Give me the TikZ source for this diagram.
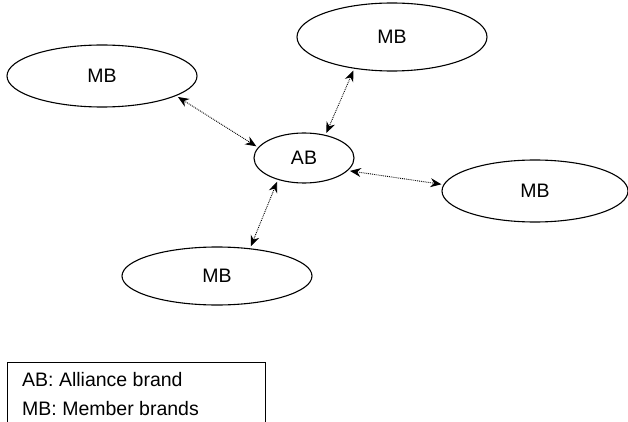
\documentclass[tikz,border=0pt]{standalone}
\usepackage{fontspec}
\setmainfont{Liberation Sans}
\usetikzlibrary{shapes.geometric,arrows.meta}
\tikzset{
  brand/.style={draw, ellipse, line width=1.1pt, inner sep=0pt},
  link/.style={<->, densely dotted, line width=0.9pt, shorten <=2pt, shorten >=2pt},
}
\begin{document}
\begin{tikzpicture}[x=1pt,y=-1pt,>={Stealth[length=11pt,width=9pt]},
  font=\fontsize{19.5}{23}\selectfont]
\useasboundingbox (0,0) rectangle (628,422);
% The brands
\node[brand, minimum width=100pt, minimum height=50pt] (ab) at (304,158) {AB};
\node[brand, minimum width=190pt, minimum height=62pt] (mbnw) at (102,76) {MB};
\node[brand, minimum width=190pt, minimum height=68pt] (mbn) at (392,37) {MB};
\node[brand, minimum width=186pt, minimum height=62pt] (mbe) at (535,191) {MB};
\node[brand, minimum width=190pt, minimum height=58pt] (mbs) at (217,276) {MB};

% The links
\draw[link] (mbnw.-15) -- (ab.167);
\draw[link] (mbn.-140) -- (ab.47);
\draw[link] (ab.-16) -- (mbe.176);
\draw[link] (ab.-140) -- (mbs.40);

% The legend
\draw[line width=0.8pt] (7,430) -- (7,362) -- (265,362) -- (265,430);
\node[anchor=base west, inner sep=0pt] (abkey) at (22,386) {AB: Alliance brand};
\node[anchor=base west, inner sep=0pt] (mbkey) at (22,415) {MB: Member brands};
\end{tikzpicture}
\end{document}
